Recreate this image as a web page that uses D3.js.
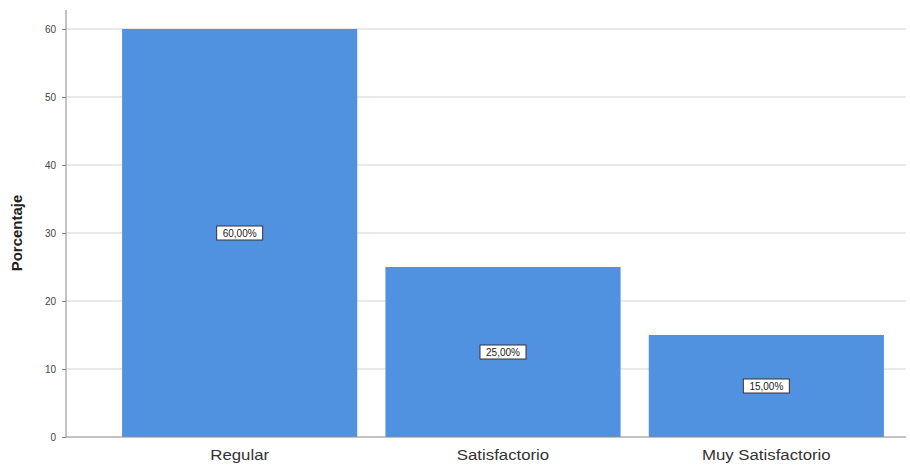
<!DOCTYPE html>
<html><head><meta charset="utf-8">
<script src="https://cdn.jsdelivr.net/npm/d3@7"></script>
<style>body{margin:0;background:#fff}</style>
</head><body>
<svg id="c" width="910" height="466"></svg>
<script>
const categories = ["Regular", "Satisfactorio", "Muy Satisfactorio"];
const values = [60, 25, 15];
const valueLabels = ["60,00%", "25,00%", "15,00%"];
const yTicks = [0, 10, 20, 30, 40, 50, 60];
const yTitle = "Porcentaje";

const svg = d3.select("#c");
const x = d3.scaleBand().domain(categories).range([108, 898]).paddingInner(0.107).paddingOuter(0.0535);
const y = d3.scaleLinear().domain([0, 60]).range([437, 29]);

// gridlines
svg.append("g").selectAll("line").data(yTicks.filter(d => d > 0)).join("line")
  .attr("x1", 66).attr("x2", 906).attr("y1", d => y(d)).attr("y2", d => y(d))
  .attr("stroke", "#d4d4d4").attr("stroke-width", 1);

// bars
svg.append("g").selectAll("rect").data(values).join("rect")
  .attr("x", (d, i) => x(categories[i])).attr("width", x.bandwidth())
  .attr("y", d => y(d)).attr("height", d => y(0) - y(d))
  .attr("fill", "#5192e0");

// y axis
const ya = svg.append("g").attr("transform", "translate(66,0)")
  .call(d3.axisLeft(y).tickValues(yTicks).tickSize(4).tickPadding(6));
ya.select(".domain").attr("d", "M0,10V437").attr("stroke", "#888");
ya.selectAll(".tick line").attr("stroke", "#888");
ya.selectAll("text").attr("font-family", "Arial, Liberation Sans, sans-serif").attr("font-size", 10).attr("fill", "#444");

// x axis
const xa = svg.append("g").attr("transform", "translate(0,437)")
  .call(d3.axisBottom(x).tickSize(0).tickPadding(12));
xa.select(".domain").attr("d", "M66,0H906").attr("stroke", "#888");
xa.selectAll("text").attr("font-family", "Arial, Liberation Sans, sans-serif").attr("font-size", 15)
  .attr("fill", "#333").attr("transform", "scale(1.12,1)");

// y title
svg.append("text").attr("transform", "translate(22,233) rotate(-90)")
  .attr("text-anchor", "middle").attr("font-family", "Arial, Liberation Sans, sans-serif")
  .attr("font-weight", "bold").attr("font-size", 15).attr("fill", "#222").text(yTitle);

// value labels
const lg = svg.append("g").selectAll("g").data(values).join("g")
  .attr("transform", (d, i) => `translate(${x(categories[i]) + x.bandwidth() / 2},${y(d / 2)})`);
lg.append("rect").attr("x", -23).attr("y", -7).attr("width", 46).attr("height", 14)
  .attr("fill", "#fff").attr("stroke", "#333").attr("stroke-width", 1);
lg.append("text").attr("text-anchor", "middle").attr("dy", "0.35em")
  .attr("font-family", "Arial, Liberation Sans, sans-serif").attr("font-size", 10).attr("fill", "#222")
  .text((d, i) => valueLabels[i]);
</script>
</body></html>
